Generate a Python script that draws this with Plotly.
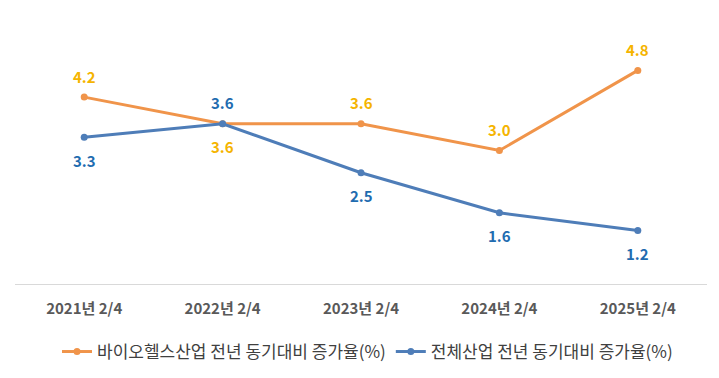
import plotly.graph_objects as go

categories = ["2021년 2/4", "2022년 2/4", "2023년 2/4", "2024년 2/4", "2025년 2/4"]
bio_values = [4.2, 3.6, 3.6, 3.0, 4.8]
all_values = [3.3, 3.6, 2.5, 1.6, 1.2]
bio_name = "바이오헬스산업 전년 동기대비 증가율(%)"
all_name = "전체산업 전년 동기대비 증가율(%)"
bio_label_pos = ["above", "below", "above", "above", "above"]
all_label_pos = ["below", "above", "below", "below", "below"]

BIO_LINE = "#F0944A"
ALL_LINE = "#4E7DB8"
BIO_TEXT = "#F5B400"
ALL_TEXT = "#1F6CB0"
FONT = "Noto Sans CJK KR"

fig = go.Figure()
fig.add_trace(go.Scatter(x=categories, y=bio_values, mode="lines+markers", name=bio_name,
                         line=dict(color=BIO_LINE, width=3), marker=dict(size=7, color=BIO_LINE)))
fig.add_trace(go.Scatter(x=categories, y=all_values, mode="lines+markers", name=all_name,
                         line=dict(color=ALL_LINE, width=3), marker=dict(size=7, color=ALL_LINE)))

annotations = []
for vals, poss, col in [(bio_values, bio_label_pos, BIO_TEXT), (all_values, all_label_pos, ALL_TEXT)]:
    for c, v, p in zip(categories, vals, poss):
        annotations.append(dict(x=c, y=v, text=f"{v:.1f}", showarrow=False,
                                yshift=21 if p == "above" else -23,
                                font=dict(family=FONT, size=15, color=col, weight="bold")))

fig.update_layout(
    width=719, height=378,
    margin=dict(l=7, r=20, t=9, b=102, autoexpand=False),
    paper_bgcolor="white", plot_bgcolor="white",
    annotations=annotations,
    showlegend=True,
    legend=dict(orientation="h", x=0.5, xanchor="center", xref="container",
                y=0.09, yanchor="middle", yref="container",
                font=dict(family=FONT, size=17, color="#404040"), itemwidth=30,
                tracegroupgap=0),
    xaxis=dict(type="category", range=[-0.5, 4.5], showgrid=False, showline=True,
               linecolor="#D9D9D9", linewidth=1,
               ticks="", tickfont=dict(family=FONT, size=15, color="#595959", weight="bold"),
               ticklabelstandoff=11),
    yaxis=dict(range=[0, 6], visible=False, showgrid=False, zeroline=False),
)

fig.write_html("out.html")
